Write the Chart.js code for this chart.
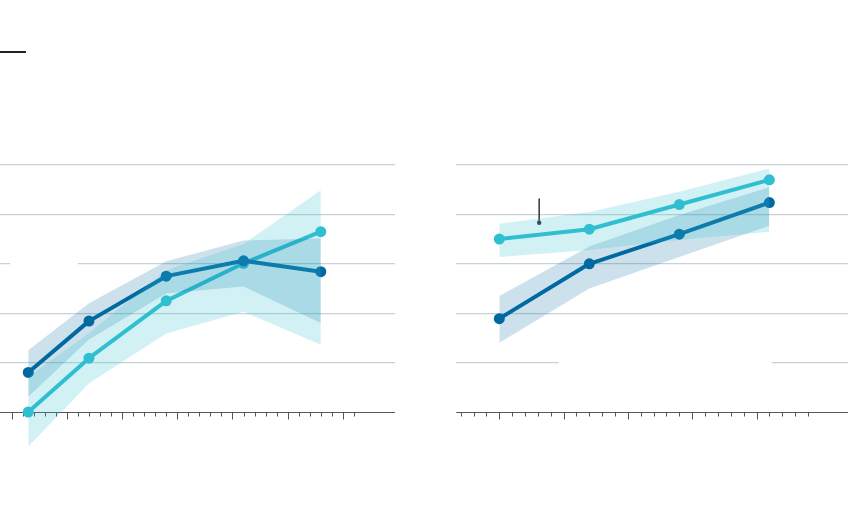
<!DOCTYPE html>
<html>
<head>
<meta charset="utf-8">
<script src="https://cdn.jsdelivr.net/npm/chart.js@4"></script>
<style>
  html, body { margin: 0; padding: 0; background: #fff; }
  #wrap { position: relative; width: 848px; height: 512px; overflow: hidden; }
  canvas { position: absolute; top: 0; }
  #rule { position: absolute; left: 0; top: 51px; width: 26px; height: 1.5px; background: #222; }
</style>
</head>
<body>
<div id="wrap">
  <div id="rule"></div>
  <canvas id="left" width="424" height="512" style="left:0"></canvas>
  <canvas id="right" width="424" height="512" style="left:424px"></canvas>
</div>
<script>
// ---------- data ----------
const gridValues = [1, 2, 3, 4, 5];

const leftX      = [1.5, 7, 14, 21, 28];
const leftDark   = [0.80, 1.84, 2.75, 3.06, 2.84];
const leftDarkHi = [1.25, 2.20, 3.05, 3.47, 3.51];
const leftDarkLo = [0.31, 1.47, 2.40, 2.54, 1.80];
const leftLight   = [0.00, 1.09, 2.25, 3.01, 3.65];
const leftLightHi = [0.71, 1.60, 2.87, 3.40, 4.49];
const leftLightLo = [-0.70, 0.58, 1.59, 2.03, 1.36];
const leftTicks = { from: 0, to: 31, majorEvery: 5 };

const rightX      = [0, 7, 14, 21];
const rightDark   = [1.89, 3.00, 3.60, 4.24];
const rightDarkHi = [2.35, 3.35, 3.99, 4.55];
const rightDarkLo = [1.40, 2.50, 3.14, 3.77];
const rightLight   = [3.50, 3.70, 4.20, 4.70];
const rightLightHi = [3.81, 4.05, 4.46, 4.93];
const rightLightLo = [3.14, 3.28, 3.48, 3.65];
const rightTicks = { from: -3, to: 24, majorEvery: 5 };
const rightMarkerX = 3.1;
const rightMarkerY = [4.31, 3.83];

// ---------- styles ----------
const DARK = '#0069a0';
const LIGHT = '#30bfd1';
const DARK_BAND = 'rgba(0,105,160,0.20)';
const LIGHT_BAND = 'rgba(48,191,209,0.22)';
const GRID = '#c7d2d7';
const AXIS = '#555';

const pts = (xs, ys) => xs.map((x, i) => ({ x, y: ys[i] }));

function bandSets(xs, hi, lo, color) {
  return [
    { data: pts(xs, hi), borderWidth: 0, pointRadius: 0, backgroundColor: color, fill: '+1', tension: 0 },
    { data: pts(xs, lo), borderWidth: 0, pointRadius: 0, backgroundColor: color, fill: false, tension: 0 }
  ];
}
function lineSet(xs, ys, color) {
  return { data: pts(xs, ys), borderColor: color, backgroundColor: color, borderWidth: 4,
           pointRadius: 5.5, pointHoverRadius: 5.5, pointBorderWidth: 0, fill: false, tension: 0, clip: false };
}

const axisPlugin = {
  id: 'axisPlugin',
  beforeDatasetsDraw(chart, args, opts) {
    const { ctx, chartArea: a, scales: { x, y } } = chart;
    ctx.save();
    // gaps in gridlines (where labels once sat)
    (opts.gaps || []).forEach(g => {
      const py = y.getPixelForValue(g.y);
      ctx.fillStyle = '#fff';
      ctx.fillRect(x.getPixelForValue(g.x0), py - 2, x.getPixelForValue(g.x1) - x.getPixelForValue(g.x0), 4);
    });
    const y0 = Math.round(y.getPixelForValue(0)) + 0.5;
    ctx.strokeStyle = AXIS;
    ctx.lineWidth = 1.2;
    ctx.beginPath();
    ctx.moveTo(a.left, y0); ctx.lineTo(a.right, y0);
    ctx.stroke();
    ctx.lineWidth = 1;
    const t = opts.ticks;
    for (let v = t.from; v <= t.to; v++) {
      const px = Math.round(x.getPixelForValue(v)) + 0.5;
      const len = (v % t.majorEvery === 0) ? 7 : 4;
      ctx.beginPath();
      ctx.moveTo(px, y0); ctx.lineTo(px, y0 + len);
      ctx.stroke();
    }
    ctx.restore();
  }
};

function makeChart(id, cfg) {
  return new Chart(document.getElementById(id), {
    type: 'line',
    data: { datasets: cfg.datasets },
    options: {
      responsive: false, animation: false, devicePixelRatio: 1,
      layout: { padding: cfg.padding, autoPadding: false },
      plugins: { legend: { display: false }, tooltip: { enabled: false },
                 axisPlugin: { ticks: cfg.ticks, gaps: cfg.gaps } },
      elements: { line: { borderJoinStyle: 'round', borderCapStyle: 'round' } },
      scales: {
        x: { type: 'linear', display: false, min: cfg.xmin, max: cfg.xmax },
        y: {
          type: 'linear', min: -1.5, max: 6.5, display: true,
          afterBuildTicks: s => { s.ticks = gridValues.map(v => ({ value: v })); },
          ticks: { display: false },
          grid: { color: GRID, lineWidth: 1.3, drawTicks: false },
          border: { display: false }
        }
      }
    },
    plugins: [axisPlugin]
  });
}

// y: value 0 at 412px, 49.4px per unit -> padding top 90.9, bottom 25.9
makeChart('left', {
  xmin: -1.06, xmax: 34.72,
  padding: { left: 0, right: 29, top: 90.9, bottom: 25.9 },
  ticks: leftTicks,
  gaps: [{ y: 3, x0: (10 - 11.7) / 11.04, x1: (78 - 11.7) / 11.04 }],
  datasets: [
    ...bandSets(leftX, leftLightHi, leftLightLo, LIGHT_BAND),
    ...bandSets(leftX, leftDarkHi, leftDarkLo, DARK_BAND),
    lineSet(leftX, leftDark, DARK),
    lineSet(leftX, leftLight, LIGHT)
  ]
});

makeChart('right', {
  xmin: -3.344, xmax: 27.115,
  padding: { left: 32.3, right: 0, top: 90.9, bottom: 25.9 },
  ticks: rightTicks,
  gaps: [{ y: 1, x0: (558.7 - 499.3) / 12.86, x1: (771.7 - 499.3) / 12.86 }],
  datasets: [
    ...bandSets(rightX, rightLightHi, rightLightLo, LIGHT_BAND),
    ...bandSets(rightX, rightDarkHi, rightDarkLo, DARK_BAND),
    lineSet(rightX, rightDark, DARK),
    lineSet(rightX, rightLight, LIGHT),
    { data: pts([rightMarkerX, rightMarkerX], rightMarkerY), borderColor: '#333', backgroundColor: '#333',
      borderWidth: 1.5, pointRadius: [0, 2.2], pointBorderWidth: 0, fill: false }
  ]
});
</script>
</body>
</html>
